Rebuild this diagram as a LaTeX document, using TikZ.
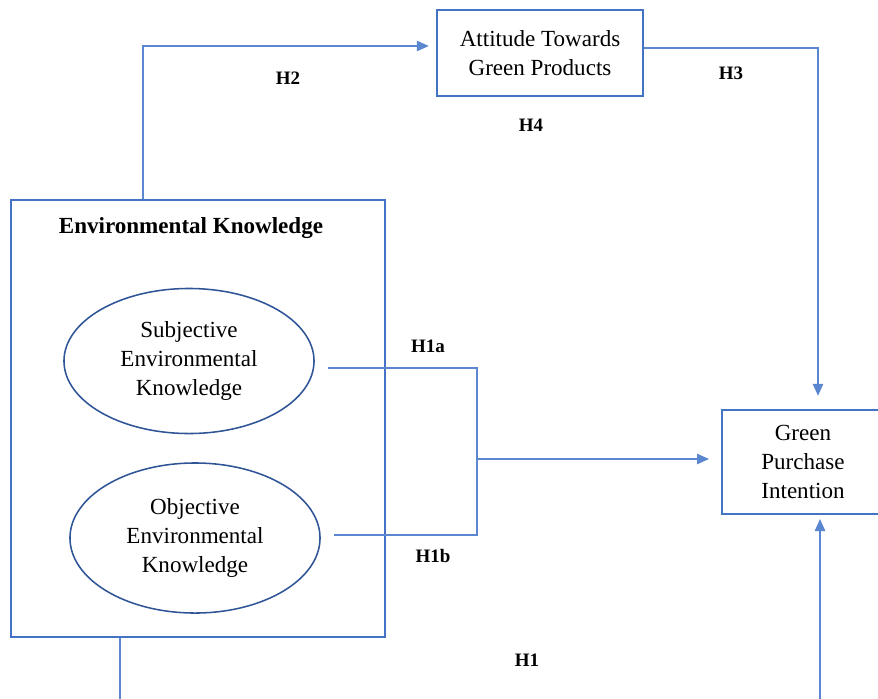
\documentclass[tikz,border=0pt]{standalone}
\usepackage{fontspec}
\setmainfont{Liberation Serif}
\usepackage{tikz}
\usetikzlibrary{positioning,arrows.meta,shapes.geometric}
\definecolor{boxblue}{HTML}{4472C4}
\definecolor{ovalblue}{HTML}{2F5597}
\definecolor{linkblue}{HTML}{5B86D0}

\begin{document}
\begin{tikzpicture}[
x=0.025cm, y=-0.025cm,
box/.style={draw=boxblue, line width=1.4pt, minimum width=5.15cm, minimum height=2.15cm, align=center, font=\fontsize{16.4}{20.5}\selectfont, inner sep=0pt},
group/.style={draw=boxblue, line width=1.4pt, minimum width=9.35cm, minimum height=10.925cm, inner sep=0pt},
oval/.style={ellipse, draw=ovalblue, line width=1.1pt, minimum width=6.25cm, minimum height=3.7cm, align=center, font=\fontsize{16.4}{20.5}\selectfont, inner sep=0pt},
hyp/.style={font=\fontsize{13.5}{16}\selectfont\bfseries},
link/.style={draw=linkblue, line width=1pt},
arrow/.style={link, -{Triangle[length=0.3cm, width=0.26cm]}}
]
\useasboundingbox (0,0) rectangle (878,698);
% constructs
\node[box] (att) at (540,53) {Attitude Towards\\Green Products};
\node[group] (envk) at (198,418.5) {};
\node[font=\fontsize{16.4}{20.5}\selectfont\bfseries] (envkt) at (191,228) {Environmental Knowledge};
\node[oval, minimum height=3.625cm] (subj) at (189,361) {Subjective\\Environmental\\Knowledge};
\node[oval, minimum height=3.75cm] (obj) at (195,538) {Objective\\Environmental\\Knowledge};
\node[box, minimum width=4.05cm, minimum height=2.6cm] (gpi) at (803,462) {Green\\Purchase\\Intention};
% bend points
\coordinate (h2x) at (143,0);
\coordinate (h3x) at (818,0);
\coordinate (ja) at (477,368);
\coordinate (jb) at (477,535);
\coordinate (jm) at (477,459);
\coordinate (h1l) at (120,730);
\coordinate (h1r) at (820,730);
% paths
\draw[arrow, shorten >=0.18cm] (h2x |- envk.north) |- ([yshift=0.175cm]att.west);
\draw[arrow, shorten >=0.33cm] ([yshift=0.125cm]att.east) -| (h3x |- gpi.north);
\draw[link] ([xshift=0.33cm]subj.east |- ja) -- (ja) -- (jb) -- ([xshift=0.33cm]obj.east |- jb);
\draw[arrow, shorten >=0.3cm] (jm) -- (jm -| gpi.west);
\draw[arrow, shorten >=0.1cm] (h1l |- envk.south) -- (h1l) -- (h1r) -- (h1r |- gpi.south);
% hypothesis labels
\node[hyp] (lh2) at (288,78) {H2};
\node[hyp] (lh3) at (731,73) {H3};
\node[hyp] (lh4) at (531,125) {H4};
\node[hyp] (lh1a) at (428,346) {H1a};
\node[hyp] (lh1b) at (433,556) {H1b};
\node[hyp] (lh1) at (527,660) {H1};
\end{tikzpicture}
\end{document}
